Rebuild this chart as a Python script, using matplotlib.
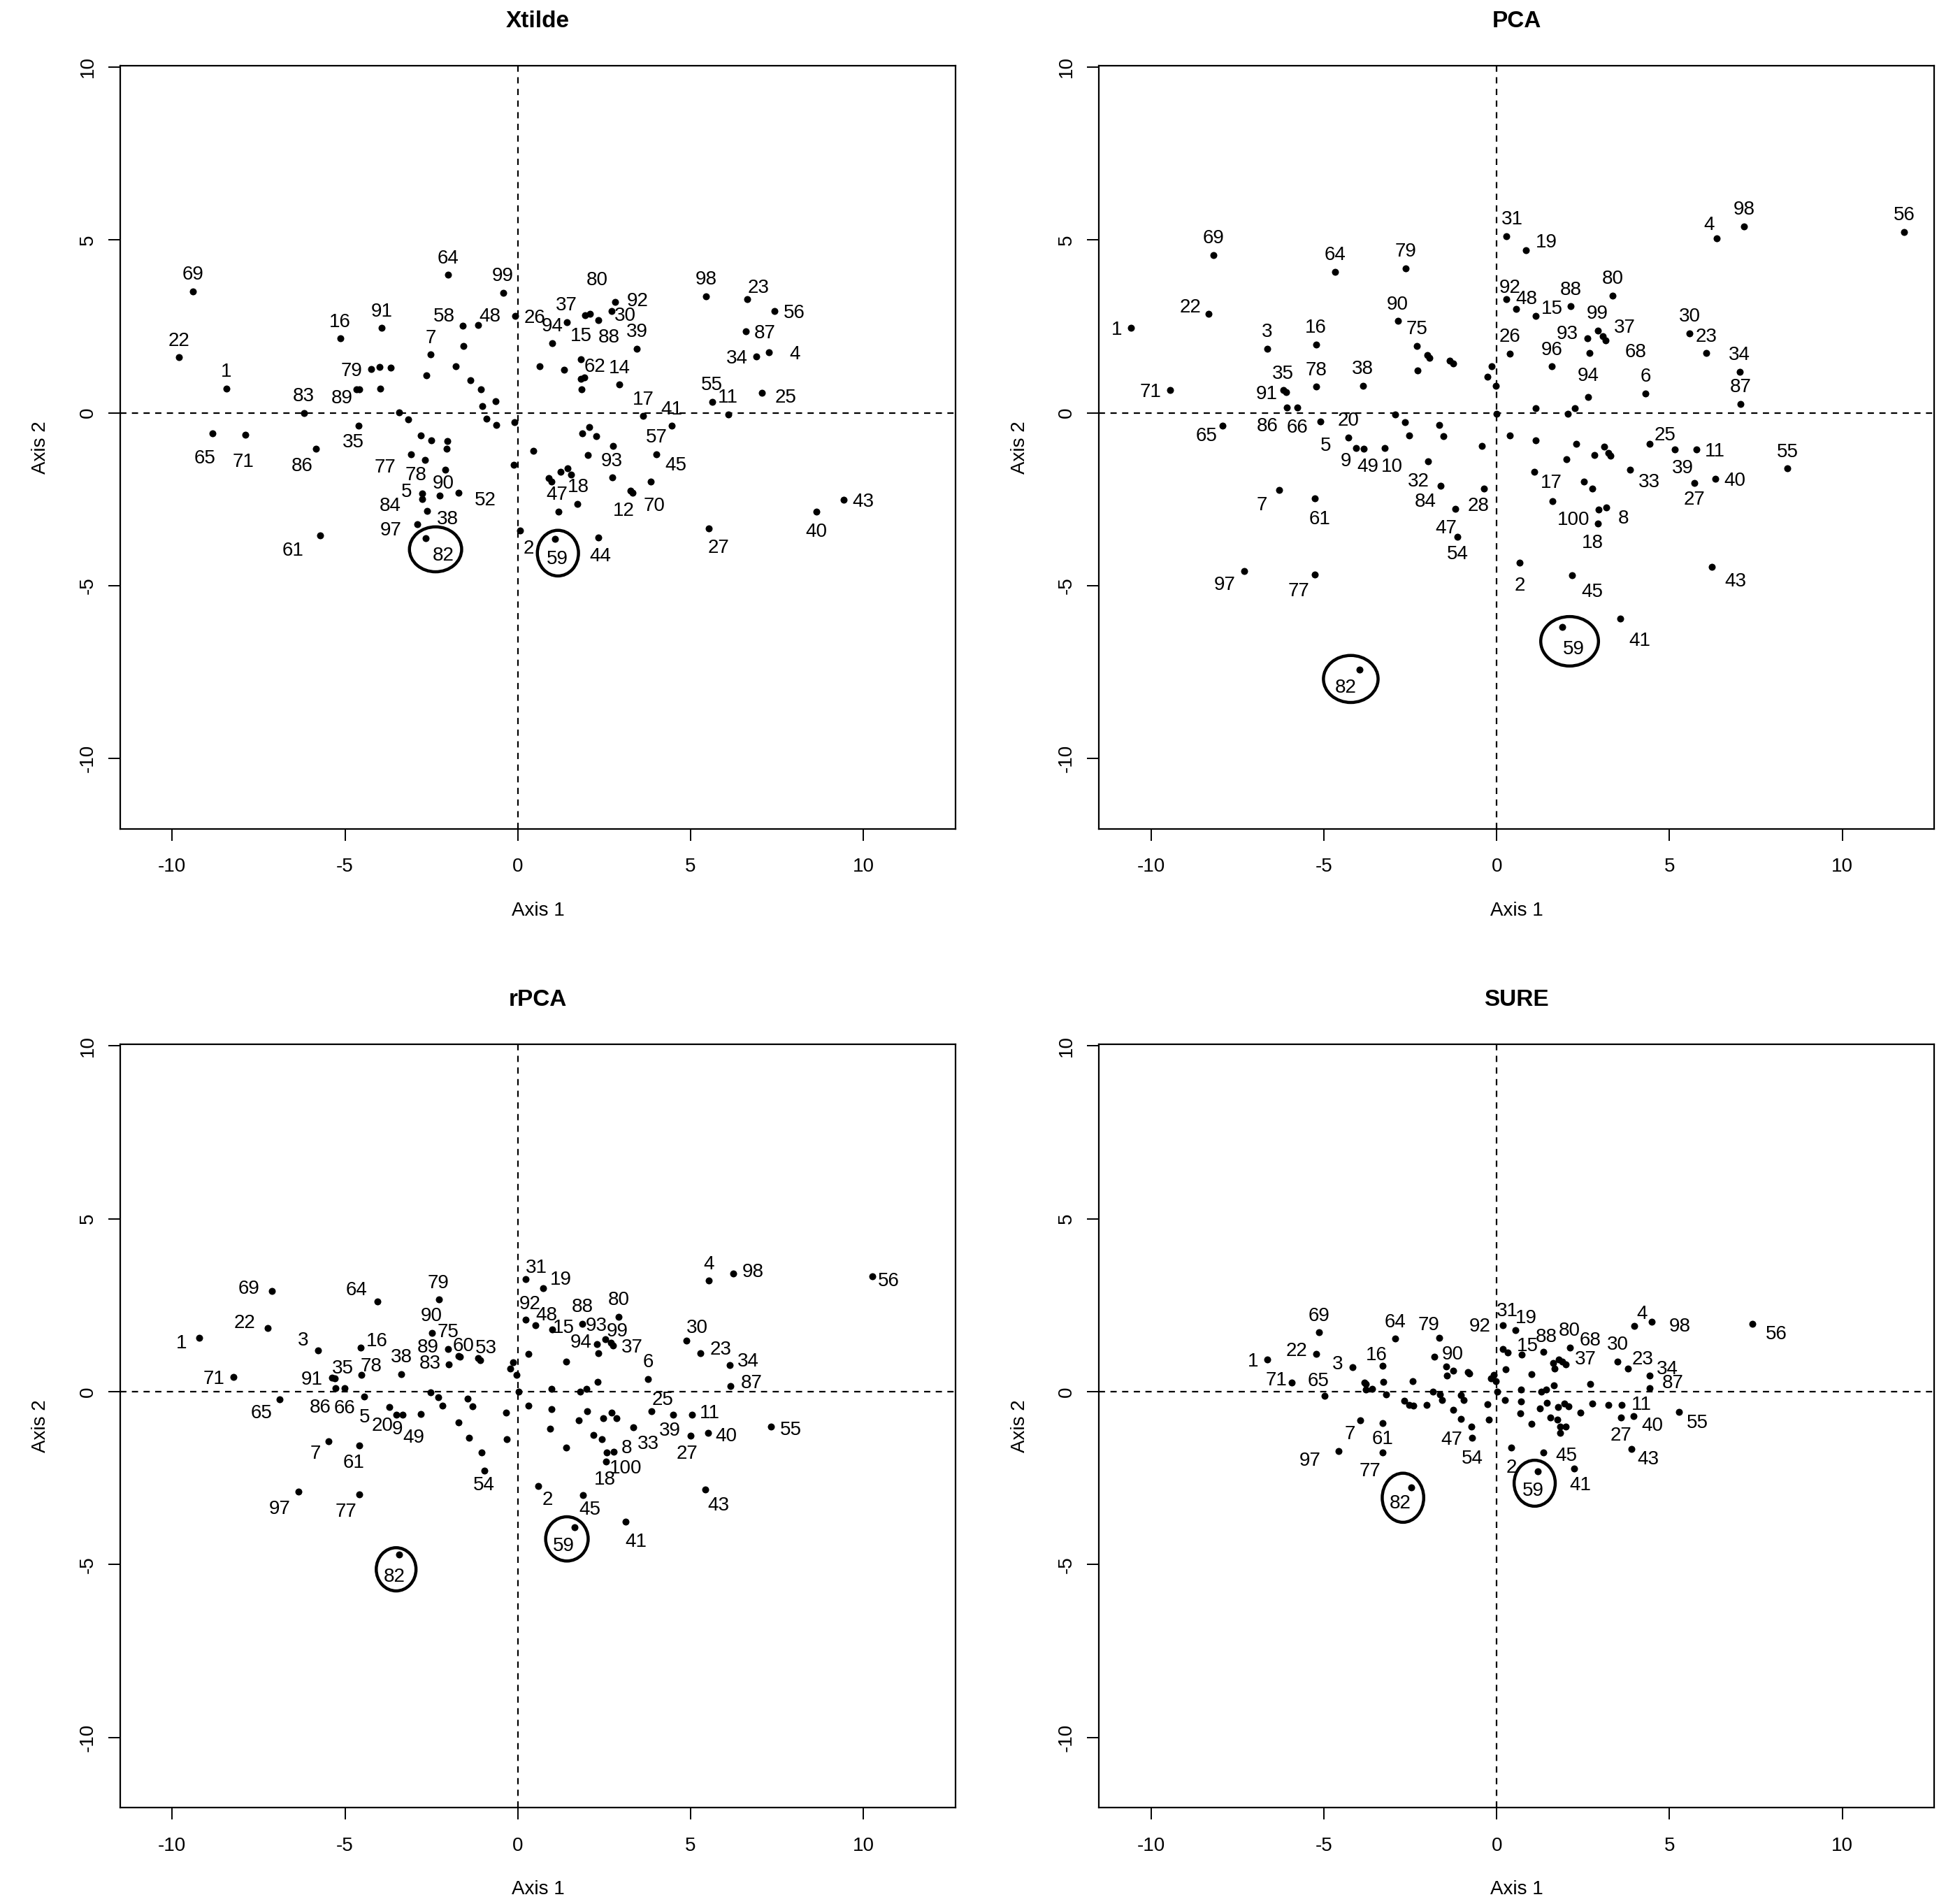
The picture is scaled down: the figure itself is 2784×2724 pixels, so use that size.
import matplotlib
matplotlib.use("Agg")
import matplotlib.pyplot as plt
from matplotlib.patches import Ellipse

plt.rcParams['font.family'] = ['Liberation Sans', 'DejaVu Sans']
plt.rcParams['axes.unicode_minus'] = False

# ---------------- data: first scores on axis 1 / axis 2 ----------------
# labelled points first, then the points drawn without a label ('')

# Xtilde
xtilde_lab = ['69', '22', '1', '65', '71', '83', '86', '61', '16', '91',
              '79', '89', '35', '7', '58', '48', '64', '99', '26', '77',
              '78', '5', '84', '90', '52', '38', '97', '82', '2', '92',
              '30', '15', '80', '88', '37', '94', '39', '62', '14', '17',
              '41', '55', '11', '98', '23', '56', '87', '34', '4', '25',
              '93', '57', '45', '18', '47', '12', '70', '43', '40', '27',
              '59', '44'] + [''] * 38
xtilde_x = [-9.39, -9.80, -8.43, -8.83, -7.89, -6.19, -5.84, -5.72, -5.14, -3.94,
            -4.25, -4.66, -4.60, -2.52, -1.60, -1.15, -2.01, -0.43, -0.08, -3.08,
            -2.69, -2.76, -2.77, -2.26, -1.72, -2.62, -2.91, -2.66, 0.06, 2.81,
            2.72, 1.94, 2.09, 2.32, 1.41, 0.99, 3.44, 1.82, 2.94, 3.63,
            4.45, 5.62, 6.08, 5.44, 6.64, 7.43, 6.59, 6.90, 7.27, 7.07,
            2.75, 4.01, 3.85, 1.55, 0.98, 3.25, 3.31, 9.43, 8.63, 5.52,
            1.08, 2.32,
            -4.00, -3.68, -4.59, -3.97, -2.65, -1.58, -1.80, -1.38, -1.07, -0.65,
            -1.03, -0.91, -0.62, -0.10, -3.44, -3.18, -2.81, -2.51, -2.03, -2.05,
            -2.09, -0.12, 0.45, 0.63, 1.34, 1.93, 1.82, 1.84, 2.07, 1.87,
            2.27, 2.02, 2.74, 1.43, 1.24, 0.89, 1.73, 1.17]
xtilde_y = [3.51, 1.60, 0.70, -0.59, -0.63, 0.00, -1.04, -3.54, 2.15, 2.45,
            1.27, 0.67, -0.37, 1.68, 2.51, 2.54, 3.99, 3.47, 2.80, -1.21,
            -1.37, -2.34, -2.50, -2.39, -2.31, -2.84, -3.22, -3.63, -3.41, 3.20,
            2.94, 2.82, 2.86, 2.67, 2.62, 2.01, 1.86, 1.54, 0.81, -0.10,
            -0.38, 0.32, -0.04, 3.37, 3.29, 2.94, 2.36, 1.63, 1.74, 0.58,
            -0.96, -1.20, -2.00, -1.78, -2.00, -2.26, -2.31, -2.51, -2.85, -3.35,
            -3.64, -3.60,
            1.32, 1.30, 0.67, 0.70, 1.08, 1.94, 1.34, 0.94, 0.68, 0.34,
            0.19, -0.18, -0.35, -0.28, 0.01, -0.20, -0.66, -0.80, -0.82, -1.04,
            -1.65, -1.51, -1.11, 1.35, 1.25, 1.02, 0.98, 0.68, -0.41, -0.59,
            -0.68, -1.23, -1.87, -1.61, -1.70, -1.88, -2.63, -2.86]

# PCA
pca_lab = ['1', '69', '22', '71', '3', '16', '64', '79', '90', '75',
           '35', '91', '78', '38', '86', '66', '65', '20', '5', '9',
           '49', '10', '32', '84', '28', '47', '54', '7', '61', '97',
           '77', '82', '2', '31', '92', '48', '26', '19', '4', '98',
           '56', '80', '88', '15', '99', '93', '37', '68', '96', '94',
           '30', '23', '34', '87', '6', '25', '39', '11', '40', '27',
           '33', '55', '17', '100', '8', '18', '45', '43', '41', '59'] + [''] * 30
pca_x = [-10.58, -8.19, -8.33, -9.45, -6.64, -5.23, -4.68, -2.64, -2.86, -2.31,
         -6.18, -6.08, -5.21, -3.87, -6.06, -5.77, -7.92, -4.29, -5.10, -4.06,
         -3.85, -3.23, -1.98, -1.63, -0.36, -1.19, -1.13, -6.29, -5.27, -7.31,
         -5.26, -3.96, 0.67, 0.27, 0.27, 0.56, 0.39, 0.85, 6.36, 7.15,
         11.79, 3.36, 2.14, 1.13, 2.92, 2.62, 3.07, 3.16, 1.60, 2.65,
         5.58, 6.06, 7.03, 7.06, 4.31, 4.43, 5.16, 5.77, 6.32, 5.72,
         3.86, 8.41, 1.08, 2.94, 3.17, 2.93, 2.18, 6.22, 3.57, 1.89,
         -2.00, -1.95, -2.29, -1.35, -1.26, -2.93, -2.65, -2.54, -1.66, -1.54,
         -0.42, -0.14, -0.26, -0.03, 0.00, 0.39, 2.68, 1.13, 2.06, 2.27,
         1.13, 2.31, 2.01, 2.83, 3.12, 3.23, 3.29, 2.52, 2.77, 1.61]
pca_y = [2.46, 4.56, 2.86, 0.66, 1.85, 1.97, 4.08, 4.18, 2.65, 1.94,
         0.65, 0.60, 0.75, 0.78, 0.16, 0.16, -0.37, -0.71, -0.25, -1.03,
         -1.05, -1.03, -1.41, -2.12, -2.20, -2.77, -3.59, -2.24, -2.48, -4.58,
         -4.67, -7.43, -4.33, 5.11, 3.28, 3.01, 1.71, 4.70, 5.04, 5.39,
         5.23, 3.39, 3.08, 2.80, 2.38, 2.15, 2.22, 2.09, 1.34, 0.45,
         2.30, 1.72, 1.19, 0.26, 0.56, -0.90, -1.06, -1.06, -1.90, -2.03,
         -1.64, -1.61, -1.71, -2.79, -2.73, -3.20, -4.71, -4.46, -5.96, -6.20,
         1.67, 1.59, 1.23, 1.51, 1.43, -0.05, -0.28, -0.65, -0.35, -0.68,
         -0.96, 1.34, 1.04, 0.78, -0.03, -0.65, 1.72, 0.13, -0.03, 0.13,
         -0.79, -0.90, -1.34, -1.22, -0.97, -1.16, -1.24, -1.99, -2.19, -2.55]

# rPCA
rpca_lab = ['69', '64', '79', '22', '1', '3', '16', '90', '75', '89',
            '60', '83', '53', '38', '78', '35', '91', '71', '86', '66',
            '5', '65', '20', '9', '49', '7', '61', '97', '77', '82',
            '54', '31', '92', '19', '48', '15', '88', '80', '93', '99',
            '94', '37', '6', '30', '23', '34', '87', '4', '98', '56',
            '25', '39', '11', '40', '55', '27', '33', '8', '100', '18',
            '2', '45', '43', '41', '59'] + [''] * 34
rpca_x = [-7.12, -4.06, -2.29, -7.24, -9.21, -5.77, -4.55, -2.49, -2.01, -1.99,
          -1.72, -1.68, -1.15, -3.37, -4.53, -5.29, -5.38, -8.22, -5.27, -5.02,
          -4.44, -6.89, -3.72, -3.51, -2.80, -5.47, -4.59, -6.35, -4.59, -3.44,
          -0.97, 0.23, 0.23, 0.74, 0.50, 0.99, 1.87, 2.92, 2.54, 2.69,
          2.28, 2.75, 3.77, 4.87, 5.29, 6.13, 6.15, 5.53, 6.24, 10.26,
          3.86, 4.49, 5.03, 5.50, 7.32, 4.99, 3.35, 2.77, 2.57, 2.56,
          0.59, 1.89, 5.42, 3.12, 1.65,
          -2.53, -2.30, -2.19, -1.45, -1.32, -1.72, -1.41, -1.04, -0.35, -0.31,
          0.02, -0.13, -0.22, -0.03, 0.31, 0.31, -3.34, -1.09, 2.33, 1.40,
          2.30, 0.98, 1.80, 1.99, 0.98, 0.94, 1.76, 2.01, 2.47, 2.71,
          2.86, 2.19, 2.43, 1.40]
rpca_y = [2.91, 2.60, 2.66, 1.83, 1.56, 1.19, 1.27, 1.70, 1.24, 0.79,
          1.03, 1.00, 0.96, 0.51, 0.49, 0.38, 0.40, 0.42, 0.11, 0.11,
          -0.15, -0.22, -0.44, -0.66, -0.65, -1.43, -1.56, -2.90, -2.97, -4.72,
          -2.28, 3.26, 2.09, 2.99, 1.92, 1.79, 1.96, 2.16, 1.52, 1.42,
          1.38, 1.33, 0.36, 1.47, 1.11, 0.76, 0.17, 3.21, 3.42, 3.34,
          -0.57, -0.67, -0.67, -1.19, -1.01, -1.28, -1.04, -1.73, -1.77, -2.02,
          -2.74, -2.99, -2.83, -3.77, -3.92,
          -0.03, -0.16, -0.40, -0.21, -0.42, -0.89, -1.34, -1.75, -0.60, -1.38,
          -0.01, 0.85, 0.66, 0.49, 1.10, -0.40, -0.67, 0.91, 1.11, 0.86,
          0.29, 0.09, -0.01, 0.09, -0.50, -1.08, -0.84, -0.57, -0.77, -0.61,
          -0.77, -1.26, -1.38, -1.61]

# SURE
sure_lab = ['1', '69', '22', '71', '65', '3', '16', '64', '79', '90',
            '31', '92', '47', '54', '7', '61', '97', '77', '82', '2',
            '19', '15', '88', '80', '37', '68', '30', '23', '4', '98',
            '56', '34', '87', '11', '27', '40', '55', '43', '45', '41',
            '59'] + [''] * 57
sure_x = [-6.64, -5.14, -5.22, -5.93, -4.97, -4.17, -3.29, -2.93, -1.66, -1.80,
          0.18, 0.17, -0.74, -0.71, -3.94, -3.30, -4.58, -3.30, -2.48, 0.42,
          0.54, 0.72, 1.35, 2.11, 1.99, 1.80, 3.50, 3.80, 3.99, 4.49,
          7.39, 4.42, 4.43, 3.62, 3.59, 3.96, 5.28, 3.89, 1.36, 2.25,
          1.18,
          0.32, -3.83, -3.79, -3.79, -3.61, -3.27, -3.20, -2.43, -2.68, -2.53,
          -2.40, -2.02, -1.84, -1.65, -1.58, -1.45, -1.25, -1.44, -0.84, -0.80,
          -1.04, -0.96, -1.25, -1.03, -0.26, -0.22, -0.17, -0.09, -0.02, 0.01,
          0.25, 0.24,
          1.63, 1.90, 1.68, 1.00, 1.65, 2.71, 0.71, 1.29, 1.43, 0.71,
          0.68, 1.00, 1.26, 1.45, 1.77, 1.95, 2.07, 2.42, 1.56, 1.75,
          1.83, 1.99, 1.83, 2.77, 3.24]
sure_y = [0.92, 1.71, 1.09, 0.26, -0.13, 0.70, 0.75, 1.53, 1.56, 1.00,
          1.92, 1.23, -1.02, -1.34, -0.84, -0.92, -1.71, -1.75, -2.78, -1.61,
          1.77, 1.07, 1.16, 1.28, 0.79, 0.92, 0.87, 0.66, 1.89, 2.02,
          1.96, 0.46, 0.11, -0.39, -0.75, -0.70, -0.59, -1.66, -1.75, -2.22,
          -2.31,
          1.13, 0.26, 0.22, 0.05, 0.07, 0.29, -0.08, 0.30, -0.26, -0.38,
          -0.40, -0.38, -0.01, -0.08, -0.24, 0.73, 0.61, 0.47, 0.57, 0.53,
          -0.11, -0.25, -0.52, -0.79, -0.36, -0.80, 0.39, 0.49, 0.30, -0.01,
          0.64, -0.24,
          0.82, 0.86, 0.67, 0.51, 0.18, 0.22, 0.05, 0.00, 0.05, -0.28,
          -0.63, -0.94, -0.49, -0.33, -0.44, -0.34, -0.43, -0.60, -0.74, -0.81,
          -1.02, -1.01, -1.19, -0.34, -0.39]

ticks = [-10, -5, 0, 5, 10]

# ---------------- layout: label placement (points, relative to the dot) ----------------
xtilde_pos = {
    '69': 'n', '22': 'n', '1': 'n', '65': (-4, -12), '71': (-1, -13), '83': 'n',
    '86': (-7, -8), '61': (-14, -7), '16': 'n', '91': 'n', '79': 'w', '89': (-7.6, -3.4),
    '35': (-3, -7.7), '7': 'n', '58': (-9.3, 5.9), '48': (6.2, 5.2), '64': 'n', '99': 'n',
    '26': 'e', '77': (-13.5, -5.6), '78': (-4.5, -6.8), '5': (-8.2, 1.8), '84': (-16.5, -2.4),
    '90': (2, 7.2), '52': (14, -3), '38': (10.4, -3.3), '97': (-13.5, -2.2), '82': (8.8, -7.8),
    '2': (4.5, -8.3), '92': (11.5, 1.5), '30': (7, -1.5), '15': (-1.8, -9.8), '80': (3.5, 18.5),
    '88': (5.5, -7.7), '37': 'n', '94': 'n', '39': 'n', '62': (7.4, -2.8), '14': 'n', '17': 'n',
    '41': 'n', '55': 'n', '11': 'n', '98': 'n', '23': (5.7, 6.6), '56': 'e', '87': 'e', '34': 'w',
    '4': (13.4, 0), '25': (12.2, -1.6), '93': (-0.7, -6.8), '57': 'n', '45': (12.7, 9.4),
    '18': (3.7, -5.5), '47': (2.8, -5.7), '12': (-3.4, -9.4), '70': (11.2, -5.7), '43': 'e',
    '40': 's', '27': (5.2, -9), '59': (1.2, -9.5), '44': (1.2, -8.7)}
pca_pos = {
    '1': 'w', '69': 'n', '22': (-9.6, 4.3), '71': 'w', '3': 'n', '16': 'n', '64': 'n', '79': 'n',
    '90': 'n', '75': 'n', '35': 'n', '91': 'w', '78': 'n', '38': 'n', '86': (-10, -8.8), '66': 's',
    '65': (-8.4, -4.5), '20': 'n', '5': (2.6, -11.4), '9': (-5.5, -5.5), '49': (2.2, -8),
    '10': (3.6, -8.6), '32': (-5, -9.3), '84': (-7.5, -7.1), '28': (-3, -7.8), '47': (-4.8, -9.1),
    '54': (0, -8), '7': (-9, -6.9), '61': (2.8, -9.5), '97': (-9.7, -6.1), '77': (-8.2, -7.8),
    '82': (-7.3, -8.3), '2': (0, -11), '31': (3.3, 9.6), '92': (2, 7), '48': (5.5, 6), '26': 'n',
    '19': (10.4, 5.1), '4': (-3.9, 8), '98': 'n', '56': 'n', '80': 'n', '88': 'n', '15': (8.5, 4.6),
    '99': 'n', '93': (-10.4, 3.4), '37': (11.2, 5.3), '68': (15.3, -4.8), '96': 'n', '94': (0, 12),
    '30': 'n', '23': 'n', '34': 'n', '87': 'n', '6': 'n', '25': (8, 5.6), '39': (3.9, -8.7),
    '11': 'e', '40': 'e', '27': (0, -7.6), '33': (10, -5.6), '55': 'n', '17': (9, -4.8),
    '100': (-12.9, -4.6), '8': (8.7, -4.8), '18': (-2.6, -9.2), '45': (10.3, -7.5),
    '43': (12.2, -6.6), '41': (10, -10.2), '59': (6.1, -10.2)}
rpca_pos = {
    '69': (-11.6, 2), '64': (-10.8, 7.1), '79': 'n', '22': (-11.8, 3.7), '1': (-9.3, -2),
    '3': (-7.8, 6.2), '16': (8.3, 4.4), '90': 'n', '75': 'n', '89': (-10.7, 9.7), '60': (2.5, 6),
    '83': (-15.2, -2.4), '53': (4.1, 6.2), '38': 'n', '78': (5.3, 5.4), '35': (4.1, 6.2),
    '91': 'w', '71': 'w', '86': (-7.8, -9), '66': 's', '5': 's', '65': (-9.3, -6.2),
    '20': (-3.5, -8.8), '9': (0.6, -6.5), '49': (-3.7, -11.1), '7': (-6.8, -5.6),
    '61': (-2.9, -7.8), '97': (-9.5, -7.8), '77': (-6.9, -8), '82': (-2.2, -10.4), '54': (0, -6.5),
    '31': (5.3, 6.6), '92': (2.1, 8.9), '19': (9, 5.4), '48': (5.8, 6), '15': (6, 1.9), '88': 'n',
    '80': 'n', '93': (-4.6, 8), '99': (3.5, 6.8), '94': (-8, 1.8), '37': 'e', '6': 'n',
    '30': (5.8, 7.6), '23': (10.3, 2.8), '34': (9.6, 3), '87': (10.8, 2.2), '4': 'n',
    '98': (10, 1.8), '56': (8.4, -1.4), '25': (5.8, 6.8), '39': (-1.7, -7), '11': (9.4, 1.8),
    '40': (9.5, -0.8), '55': (10.3, -0.8), '27': (-1.5, -8.3), '33': (7.5, -7.3), '8': (6.8, 2.8),
    '100': (9.8, -7.2), '18': (-0.6, -8.2), '2': (4.8, -6), '45': (3.5, -6.4), '43': (6.9, -7.4),
    '41': (5.4, -9.2), '59': (-5.8, -8.8)}
sure_pos = {
    '1': 'w', '69': 'n', '22': (-10, 2.6), '71': (-8, 2.3), '65': (-3.4, 8.6), '3': (-7.8, 2.5),
    '16': (-3.2, 6.5), '64': 'n', '79': (-5.3, 7.6), '90': (9.5, 2.3), '31': (2.4, 8.2),
    '92': (-11.5, 12.6), '47': (-10, -5.6), '54': 's', '7': (-5.5, -5.8), '61': (0, -7),
    '97': (-14.5, -4), '77': (-6.6, -8.8), '82': (-5.4, -7.2), '2': 's', '19': (5.6, 7.2),
    '15': (3, 5.4), '88': (1.4, 8.5), '80': 'n', '37': (10.4, 3.7), '68': (16, 11), '30': 'n',
    '23': (7.6, 5.8), '4': (3.8, 7.3), '98': (14.5, -1.4), '56': (12.6, -4.3), '34': (9.2, 4.4),
    '87': (12, 3.6), '11': (10.2, 1.3), '27': (0, -8.4), '40': (9.8, -4), '55': (9.5, -4.7),
    '43': (8.6, -4.2), '45': (11.6, -0.8), '41': (3, -7.8), '59': (-2.2, -9)}

# rings round the highlighted points: centre shift (data units), width, height
xtilde_ring = {'82': (0.28, -0.32, 1.51, 1.30), '59': (0.08, -0.42, 1.19, 1.32)}
pca_ring = {'82': (-0.26, -0.27, 1.58, 1.36), '59': (0.22, -0.41, 1.67, 1.43)}
rpca_ring = {'82': (-0.08, -0.42, 1.15, 1.25), '59': (-0.23, -0.34, 1.23, 1.28)}
sure_ring = {'82': (-0.23, -0.29, 1.20, 1.42), '59': (-0.08, -0.34, 1.19, 1.33)}

CODES = {'n': (0, 9.6, 'center'), 's': (0, -9.6, 'center'),
         'e': (4.5, 0, 'left'), 'w': (-4.5, 0, 'right')}
FS = 10

W, H = 0.4292, 0.4009
panels = [
    ('Xtilde', xtilde_x, xtilde_y, xtilde_lab, xtilde_pos, xtilde_ring, [0.0618, 0.5646, W, H]),
    ('PCA', pca_x, pca_y, pca_lab, pca_pos, pca_ring, [0.5648, 0.5646, W, H]),
    ('rPCA', rpca_x, rpca_y, rpca_lab, rpca_pos, rpca_ring, [0.0618, 0.0505, W, H]),
    ('SURE', sure_x, sure_y, sure_lab, sure_pos, sure_ring, [0.5648, 0.0505, W, H]),
]

fig = plt.figure(figsize=(13.92, 13.62), dpi=200)

for title, xs, ys, labs, pos, ring, rect in panels:
    ax = fig.add_axes(rect)
    ax.set_xlim(-11.5, 12.66)
    ax.set_ylim(-12.04, 10.04)
    ax.axhline(0, color='black', lw=0.8, ls=(0, (4, 3.5)), zorder=1)
    ax.axvline(0, color='black', lw=0.8, ls=(0, (4, 3.5)), zorder=1)
    ax.plot(xs, ys, 'o', color='black', ms=3.6, mew=0, zorder=3)

    for x, y, lab in zip(xs, ys, labs):
        if not lab:
            continue
        p = pos.get(lab, 'n')
        if isinstance(p, str):
            dx, dy, ha = CODES[p]
        else:
            dx, dy = p
            ha = 'center'
        ax.annotate(lab, (x, y), xytext=(dx, dy - 0.36 * FS), textcoords='offset points',
                    ha=ha, va='baseline', fontsize=FS, zorder=4)
        if lab in ring:
            cx, cy, ew, eh = ring[lab]
            ax.add_patch(Ellipse((x + cx, y + cy), ew, eh, fill=False,
                                 lw=1.6, color='black', zorder=4))

    ax.set_xticks(ticks)
    ax.set_yticks(ticks)
    ax.set_xticklabels([str(t) for t in ticks])
    ax.set_yticklabels([str(t) for t in ticks], rotation=90, va='center')
    ax.tick_params(direction='out', length=6, width=0.7, labelsize=FS,
                   top=False, right=False)
    ax.tick_params(axis='x', pad=8.8)
    ax.tick_params(axis='y', pad=6)
    for s in ax.spines.values():
        s.set_linewidth(0.8)

    ax.annotate(title, (0.5, 1), xycoords='axes fraction', xytext=(0, 23),
                textcoords='offset points', ha='center', va='center',
                fontsize=12, fontweight='bold')
    ax.annotate('Axis 1', (0.5, 0), xycoords='axes fraction', xytext=(0, -42),
                textcoords='offset points', ha='center', va='center', fontsize=FS)
    ax.annotate('Axis 2', (0, 0.5), xycoords='axes fraction', xytext=(-41, 0),
                textcoords='offset points', ha='center', va='center',
                rotation=90, fontsize=FS)

fig.savefig('out.png', dpi=200)
